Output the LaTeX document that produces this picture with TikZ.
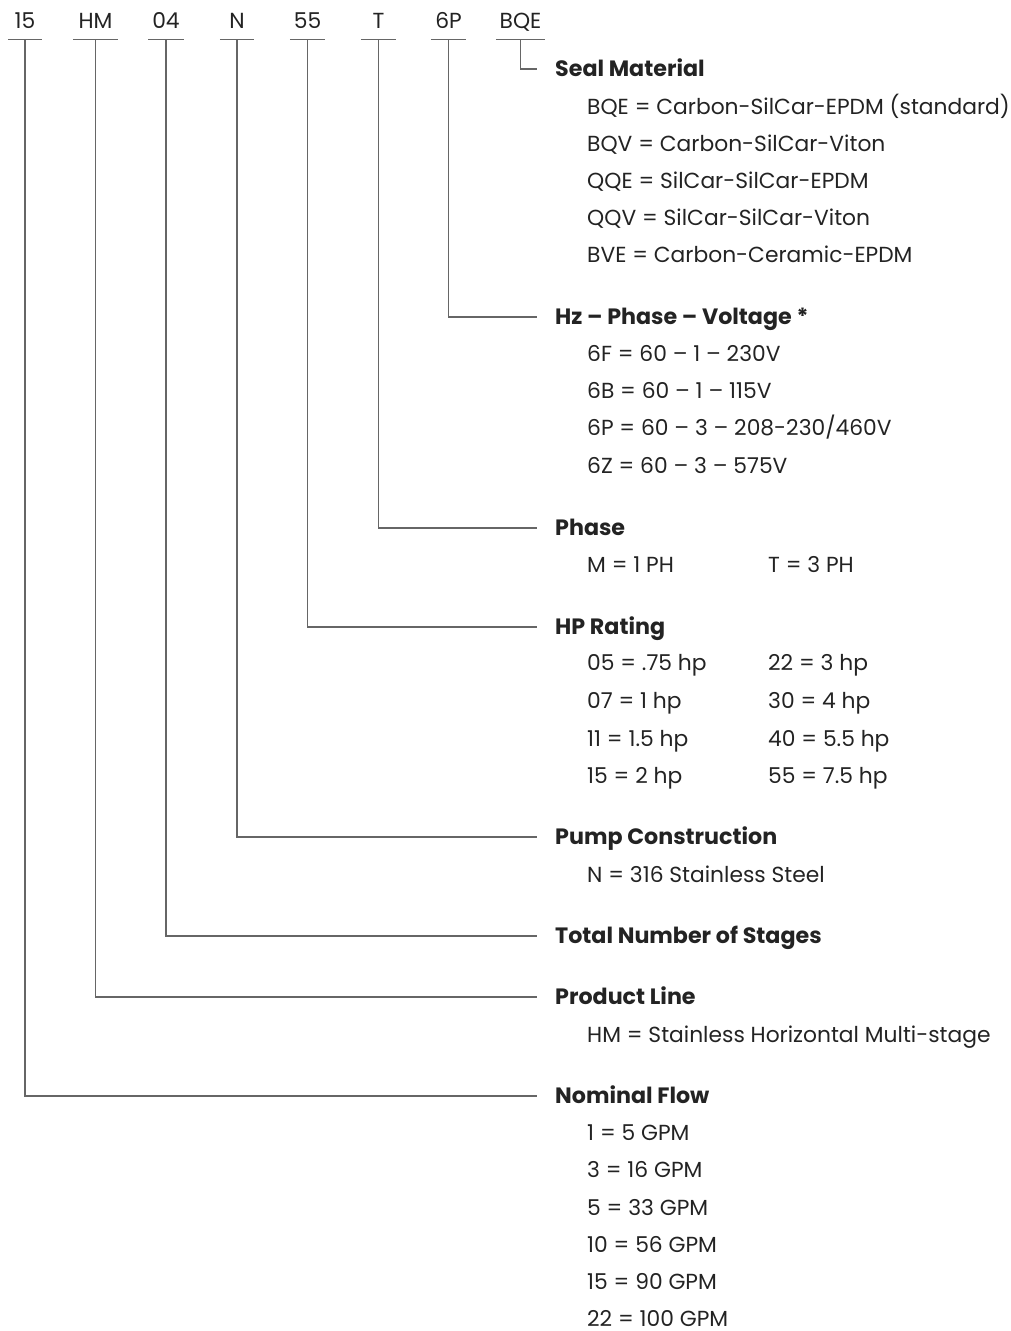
\documentclass[tikz,border=0pt]{standalone}
\usepackage{fontspec}
\setmainfont{Poppins}
\definecolor{txt}{HTML}{232323}
\definecolor{ln}{HTML}{666666}
\begin{document}
\begin{tikzpicture}[x=1pt,y=-1pt,
  code/.style={anchor=base, inner xsep=0pt, inner ysep=10.4pt, text depth=0pt, font=\fontsize{21.8}{26}\selectfont, text=txt},
  hdr/.style={anchor=west, inner xsep=18pt, inner ysep=0pt, text height=15.4pt, text depth=0pt, font=\fontsize{22.2}{26}\selectfont\bfseries, text=txt},
  item/.style={anchor=west, inner sep=0pt, text height=15.2pt, text depth=0pt, font=\fontsize{21.8}{26}\selectfont, text=txt},
  conn/.style={draw=ln, line width=1.2pt},
]
\useasboundingbox (0,0) rectangle (1011,1331);
% codes
\node[code, minimum width=34pt] (c15) at (25,28.6) {15};
\node[code, minimum width=45pt] (cHM) at (95.5,28.6) {HM};
\node[code, minimum width=35pt] (c04) at (166,28.6) {04};
\node[code, minimum width=34pt] (cN) at (237,28.6) {N};
\node[code, minimum width=35pt] (c55) at (307.5,28.6) {55};
\node[code, minimum width=35pt] (cT) at (378.5,28.6) {T};
\node[code, minimum width=35pt] (c6P) at (448.5,28.6) {6P};
\node[code, minimum width=49pt] (cBQE) at (520.5,28.6) {BQE};
\foreach \c in {c15,cHM,c04,cN,c55,cT,c6P,cBQE}
  \draw[conn] (\c.south west) -- (\c.south east);
% headers
\node[hdr] (hSeal) at (537,69) {Seal Material};
\node[hdr] (hHz) at (537,317) {Hz – Phase – Voltage *};
\node[hdr] (hPh) at (537,528) {Phase};
\node[hdr] (hHP) at (537,627) {HP Rating};
\node[hdr] (hPump) at (537,837) {Pump Construction};
\node[hdr] (hStage) at (537,936) {Total Number of Stages};
\node[hdr] (hProd) at (537,997) {Product Line};
\node[hdr] (hNom) at (537,1096) {Nominal Flow};
% connectors
\draw[conn] (cBQE.south) |- (hSeal.west);
\draw[conn] (c6P.south) |- (hHz.west);
\draw[conn] (cT.south) |- (hPh.west);
\draw[conn] (c55.south) |- (hHP.west);
\draw[conn] (cN.south) |- (hPump.west);
\draw[conn] (c04.south) |- (hStage.west);
\draw[conn] (cHM.south) |- (hProd.west);
\draw[conn] (c15.south) |- (hNom.west);
% items
\node[item] (s1) at (587,107) {BQE = Carbon-SilCar-EPDM (standard)};
\node[item] (s2) at (587,144) {BQV = Carbon-SilCar-Viton};
\node[item] (s3) at (587,181) {QQE = SilCar-SilCar-EPDM};
\node[item] (s4) at (587,218) {QQV = SilCar-SilCar-Viton};
\node[item] (s5) at (587,255) {BVE = Carbon-Ceramic-EPDM};
\node[item] (v1) at (587,354) {6F = 60 – 1 – 230V};
\node[item] (v2) at (587,391) {6B = 60 – 1 – 115V};
\node[item] (v3) at (587,428) {6P = 60 – 3 – 208-230/460V};
\node[item] (v4) at (587,466) {6Z = 60 – 3 – 575V};
\node[item] (p1) at (587,565) {M = 1 PH};
\node[item] (p2) at (768,565) {T = 3 PH};
\node[item] (r1) at (587,663) {05 = .75 hp};
\node[item] (r2) at (587,701) {07 = 1 hp};
\node[item] (r3) at (587,739) {11 = 1.5 hp};
\node[item] (r4) at (587,776) {15 = 2 hp};
\node[item] (r5) at (768,663) {22 = 3 hp};
\node[item] (r6) at (768,701) {30 = 4 hp};
\node[item] (r7) at (768,739) {40 = 5.5 hp};
\node[item] (r8) at (768,776) {55 = 7.5 hp};
\node[item] (n1) at (587,875) {N = 316 Stainless Steel};
\node[item] (l1) at (587,1035) {HM = Stainless Horizontal Multi-stage};
\node[item] (f1) at (587,1133) {1 = 5 GPM};
\node[item] (f2) at (587,1170) {3 = 16 GPM};
\node[item] (f3) at (587,1208) {5 = 33 GPM};
\node[item] (f4) at (587,1245) {10 = 56 GPM};
\node[item] (f5) at (587,1282) {15 = 90 GPM};
\node[item] (f6) at (587,1319) {22 = 100 GPM};
\end{tikzpicture}
\end{document}
